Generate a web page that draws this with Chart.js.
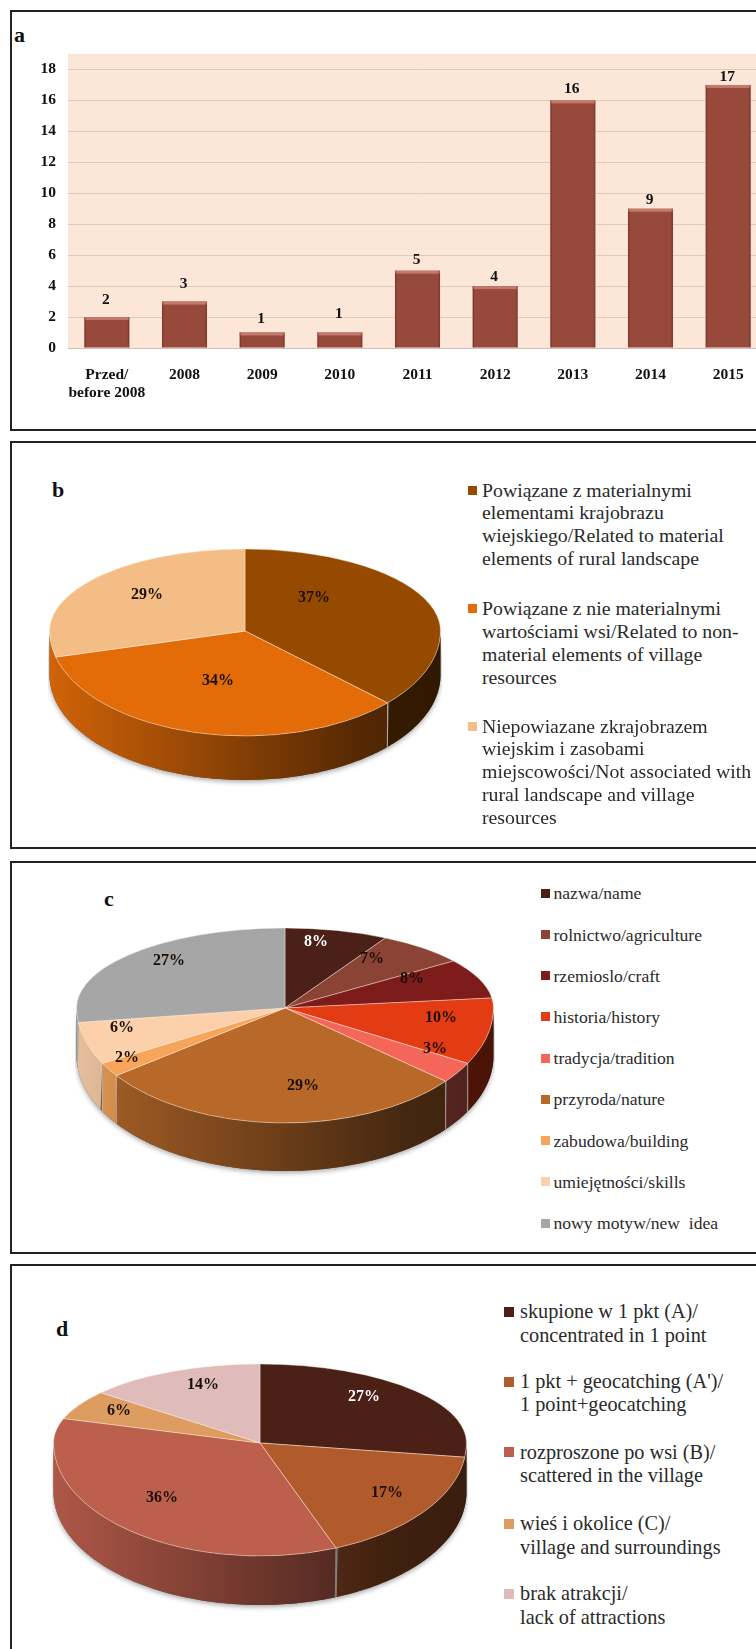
<!DOCTYPE html>
<html>
<head>
<meta charset="utf-8">
<style>
  html, body { margin: 0; padding: 0; background: #fff; }
  body { position: relative; width: 756px; height: 1649px; overflow: hidden; font-family: "Liberation Serif", serif; color: #2a2a2a; }
  .panel { position: absolute; left: 10px; width: 800px; border: 2px solid #222; box-sizing: border-box; }
  .letter { position: absolute; font-weight: bold; font-size: 22px; line-height: 22px; color: #111; }
  canvas { position: absolute; }
  .leg-line { position: absolute; white-space: pre; }
  .leg-mark { position: absolute; }
</style>
</head>
<body>
<div class="panel" style="top:10px;height:421px"></div>
<div class="panel" style="top:441px;height:408px"></div>
<div class="panel" style="top:861px;height:393px"></div>
<div class="panel" style="top:1264px;height:420px"></div>

<div class="letter" style="left:14px;top:24px">a</div>
<div class="letter" style="left:52px;top:479px">b</div>
<div class="letter" style="left:104px;top:888px">c</div>
<div class="letter" style="left:56px;top:1318px">d</div>

<canvas id="chartA"></canvas>
<canvas id="chartB"></canvas>
<canvas id="chartC"></canvas>
<canvas id="chartD"></canvas>

<script src="https://cdn.jsdelivr.net/npm/chart.js@4"></script>
<script>
// Chart a data
const yearLabels = [["Przed/", "before 2008"], "2008", "2009", "2010", "2011", "2012", "2013", "2014", "2015"];
const yearCounts = [2, 3, 1, 1, 5, 4, 16, 9, 17];
const yearTicks = [0, 2, 4, 6, 8, 10, 12, 14, 16, 18];
const yearValueLift = [10, 11, 7, 12, 4, 2, 4, 2, 1];

// Chart b data
const bValues = [37, 34, 29];
const bColors = ["#964a00", "#e36c09", "#f4bd86"];
const bLegend = [
  ["Powiązane z materialnymi", "elementami krajobrazu", "wiejskiego/Related to material", "elements of rural landscape"],
  ["Powiązane z nie materialnymi", "wartościami wsi/Related to non-", "material elements of village", "resources"],
  ["Niepowiazane zkrajobrazem", "wiejskim i zasobami", "miejscowości/Not associated with", "rural landscape and village", "resources"]
];

// Chart c data
const cValues = [8, 7, 8, 10, 3, 29, 2, 6, 27];
const cColors = ["#4a2018", "#8a4335", "#7e1c1c", "#e33b14", "#f4665a", "#b8692a", "#f6a55b", "#fbd0ab", "#a6a6a6"];
const cLegend = [
  ["nazwa/name"], ["rolnictwo/agriculture"], ["rzemioslo/craft"], ["historia/history"], ["tradycja/tradition"],
  ["przyroda/nature"], ["zabudowa/building"], ["umiejętności/skills"], ["nowy motyw/new  idea"]
];

// Chart d data
const dValues = [27, 17, 36, 6, 14];
const dColors = ["#4b2016", "#b15a2b", "#bd5f4d", "#dd9c60", "#dfbcb9"];
const dLegend = [
  ["skupione w 1 pkt (A)/", "concentrated in 1 point"],
  ["1 pkt + geocatching (A')/", "1 point+geocatching"],
  ["rozproszone po wsi (B)/", "scattered in the village"],
  ["wieś i okolice (C)/", "village and surroundings"],
  ["brak atrakcji/", "lack of attractions"]
];

const serif = "'Liberation Serif', serif";

function shade(hex, f) {
  const n = parseInt(hex.slice(1), 16);
  return `rgb(${Math.round((n >> 16) * f)},${Math.round(((n >> 8) & 255) * f)},${Math.round((n & 255) * f)})`;
}

// Bar chart extras: peach plot background, bevel on the bars, values above them
const barExtras = {
  id: "barExtras",
  beforeDraw(chart) {
    const a = chart.chartArea;
    chart.ctx.fillStyle = "#fbe6d7";
    chart.ctx.fillRect(a.left, a.top, a.right - a.left, a.bottom - a.top);
  },
  afterDatasetsDraw(chart) {
    const ctx = chart.ctx;
    chart.getDatasetMeta(0).data.forEach((bar, i) => {
      const left = bar.x - bar.width / 2;
      ctx.fillStyle = "#c27a6c";
      ctx.fillRect(left, bar.y, bar.width, 3);
      ctx.fillStyle = "rgba(60,20,10,0.25)";
      ctx.fillRect(left, bar.y, 1.5, bar.base - bar.y);
      ctx.fillRect(left + bar.width - 1.5, bar.y, 1.5, bar.base - bar.y);
      ctx.fillStyle = "#111";
      ctx.font = "bold 15.5px " + serif;
      ctx.textAlign = "center";
      ctx.textBaseline = "middle";
      ctx.fillText(String(yearCounts[i]), bar.x - 1, bar.y - 7 - yearValueLift[i]);
    });
  }
};

new Chart(document.getElementById("chartA"), (() => {
  const c = document.getElementById("chartA");
  c.width = 757; c.height = 420;
  c.style.left = "10px"; c.style.top = "10px";
  return {
    type: "bar",
    data: {
      labels: yearLabels,
      datasets: [{ data: yearCounts, backgroundColor: "#974a3c", barPercentage: 0.58, categoryPercentage: 1 }]
    },
    options: {
      responsive: false,
      animation: false,
      layout: { padding: { top: 44 } },
      plugins: { legend: { display: false }, tooltip: { enabled: false } },
      scales: {
        x: {
          afterFit: s => { s.height = 82; },
          grid: { display: false },
          border: { color: "#cdbfb4" },
          ticks: { color: "#111", padding: 10, maxRotation: 0, autoSkip: false, font: { family: serif, weight: "bold", size: 15.5, lineHeight: 1.15 } }
        },
        y: {
          min: 0,
          max: 19,
          afterFit: s => { s.width = 58; },
          afterBuildTicks: s => { s.ticks = yearTicks.map(v => ({ value: v })); },
          grid: { color: "#dfcbbc", drawTicks: false },
          border: { display: false },
          ticks: { color: "#111", padding: 12, font: { family: serif, weight: "bold", size: 15.5 } }
        }
      }
    },
    plugins: [barExtras]
  };
})());

// Tilted pie: the library's arcs are drawn squashed, with a different squash above
// and below the apex to mimic the perspective of the original, and a wall under them
const tiltedPie = {
  id: "tiltedPie",
  beforeDatasetDraw(chart, args, opts) {
    const ctx = chart.ctx;
    const meta = chart.getDatasetMeta(0);
    const first = meta.data[0];
    const cx = Math.round(first.x), cy = Math.round(first.y), r = first.outerRadius;
    const kl = opts.lowerRy / r, ku = opts.upperRy / r, depth = opts.depth, snap = opts.wallSnap;

    const wallPath = (a0, a1) => {
      ctx.beginPath();
      for (let t = a0; t <= a1 + 0.0001; t += 0.02) ctx.lineTo(cx + r * Math.cos(t), cy + kl * r * Math.sin(t));
      for (let t = a1; t >= a0 - 0.0001; t -= 0.02) ctx.lineTo(cx + r * Math.cos(t), cy + depth + kl * r * Math.sin(t));
      ctx.closePath();
    };

    // soft shadow below the wall
    ctx.save();
    ctx.shadowColor = "rgba(0,0,0,0.35)";
    ctx.shadowBlur = 5;
    ctx.shadowOffsetY = 2;
    ctx.fillStyle = "#555";
    wallPath(0, Math.PI);
    ctx.fill();
    ctx.restore();

    meta.data.forEach((arc, i) => {
      let a0 = Math.max(arc.startAngle, 0), a1 = Math.min(arc.endAngle, Math.PI);
      // slivers at the far ends of the wall are hidden in the original
      if (a1 <= a0 || a1 < snap || a0 > Math.PI - snap) return;
      if (a0 < snap) a0 = 0;
      if (a1 > Math.PI - snap) a1 = Math.PI;
      const base = chart.data.datasets[0].backgroundColor[i];
      const g = ctx.createLinearGradient(cx - r, 0, cx + r, 0);
      g.addColorStop(0, shade(base, 0.92));
      g.addColorStop(0.8, shade(base, 0.37));
      g.addColorStop(1, shade(base, 0.32));
      wallPath(a0, a1);
      ctx.fillStyle = g;
      ctx.fill();
      // light seam where two slices meet on the wall
      if (a0 > 0) {
        const sx = cx + r * Math.cos(a0), sy = cy + kl * r * Math.sin(a0);
        ctx.strokeStyle = "rgba(255,235,215,0.55)";
        ctx.lineWidth = 1;
        ctx.beginPath();
        ctx.moveTo(sx, sy);
        ctx.lineTo(sx, sy + depth);
        ctx.stroke();
      }
    });

    [[0, cy, ku], [cy, chart.height - cy, kl]].forEach(([top, h, k]) => {
      ctx.save();
      ctx.beginPath();
      ctx.rect(0, top, chart.width, h);
      ctx.clip();
      ctx.translate(0, cy);
      ctx.scale(1, k);
      ctx.translate(0, -cy);
      meta.controller.draw();
      ctx.restore();
    });
    return false;
  },
  afterDatasetsDraw(chart, args, opts) {
    const ctx = chart.ctx;
    const first = chart.getDatasetMeta(0).data[0];
    ctx.font = "bold 16px " + serif;
    ctx.textAlign = "center";
    ctx.textBaseline = "middle";
    chart.data.datasets[0].data.forEach((v, i) => {
      ctx.fillStyle = opts.whiteLabel === i ? "#fff" : "#1a1008";
      ctx.fillText(v + "%", first.x + opts.labelOffsets[i][0], first.y + opts.labelOffsets[i][1]);
    });
  }
};

function makePie(id, values, colors, p) {
  const c = document.getElementById(id);
  c.width = c.height = 2 * p.r + 4;
  c.style.left = (p.cx - p.r - 2) + "px";
  c.style.top = (p.cy - p.r - 2) + "px";
  new Chart(c, {
    type: "pie",
    data: {
      labels: values.map(String),
      datasets: [{ data: values, backgroundColor: colors, borderColor: "rgba(255,238,220,0.6)", borderWidth: 1 }]
    },
    options: {
      responsive: false,
      animation: false,
      layout: { padding: 1 },
      plugins: {
        legend: { display: false },
        tooltip: { enabled: false },
        tiltedPie: { upperRy: p.upperRy, lowerRy: p.lowerRy, depth: p.depth, wallSnap: p.wallSnap, labelOffsets: p.labelOffsets, whiteLabel: p.whiteLabel }
      }
    },
    plugins: [tiltedPie]
  });
}

makePie("chartB", bValues, bColors, {
  cx: 245, cy: 631, r: 195, upperRy: 82, lowerRy: 105, depth: 44, wallSnap: 0.3,
  labelOffsets: [[69, -33], [-27, 50], [-98, -36]]
});
makePie("chartC", cValues, cColors, {
  cx: 285, cy: 1008, r: 208, upperRy: 80, lowerRy: 115, depth: 48, wallSnap: 0.1, whiteLabel: 0,
  labelOffsets: [[31, -66], [87, -49], [127, -29], [156, 10], [150, 41], [18, 78], [-158, 50], [-163, 20], [-116, -47]]
});
makePie("chartD", dValues, dColors, {
  cx: 260, cy: 1443, r: 206, upperRy: 79, lowerRy: 113, depth: 49, wallSnap: 0.25, whiteLabel: 0,
  labelOffsets: [[104, -46], [127, 50], [-98, 55], [-141, -32], [-57, -58]]
});

// Legends are plain text next to the pies, with the line breaks of the original
function makeLegend(items, colors, g) {
  items.forEach((lines, i) => {
    const mark = document.createElement("div");
    mark.className = "leg-mark";
    mark.style.cssText = `left:${g.markX}px;top:${g.tops[i] - g.mark / 2}px;width:${g.mark}px;height:${g.mark}px;background:${colors[i]}`;
    document.body.appendChild(mark);
    lines.forEach((text, j) => {
      const line = document.createElement("div");
      line.className = "leg-line";
      line.textContent = text;
      line.style.cssText = `left:${g.textX}px;top:${g.tops[i] + j * g.step - g.step / 2}px;font-size:${g.size}px;line-height:${g.step}px`;
      document.body.appendChild(line);
    });
  });
}

makeLegend(bLegend, bColors, { markX: 468, textX: 482, mark: 9, size: 19.8, step: 22.9, tops: [490, 608.3, 726] });
makeLegend(cLegend, cColors, { markX: 541, textX: 553.5, mark: 9, size: 17.6, step: 20, tops: [893.3, 934.5, 975.7, 1016.9, 1058.1, 1099.3, 1140.5, 1181.7, 1223] });
makeLegend(dLegend, dColors, { markX: 504, textX: 520, mark: 10, size: 20.3, step: 23.2, tops: [1312, 1381.7, 1452.3, 1524, 1594] });
</script>
</body>
</html>
